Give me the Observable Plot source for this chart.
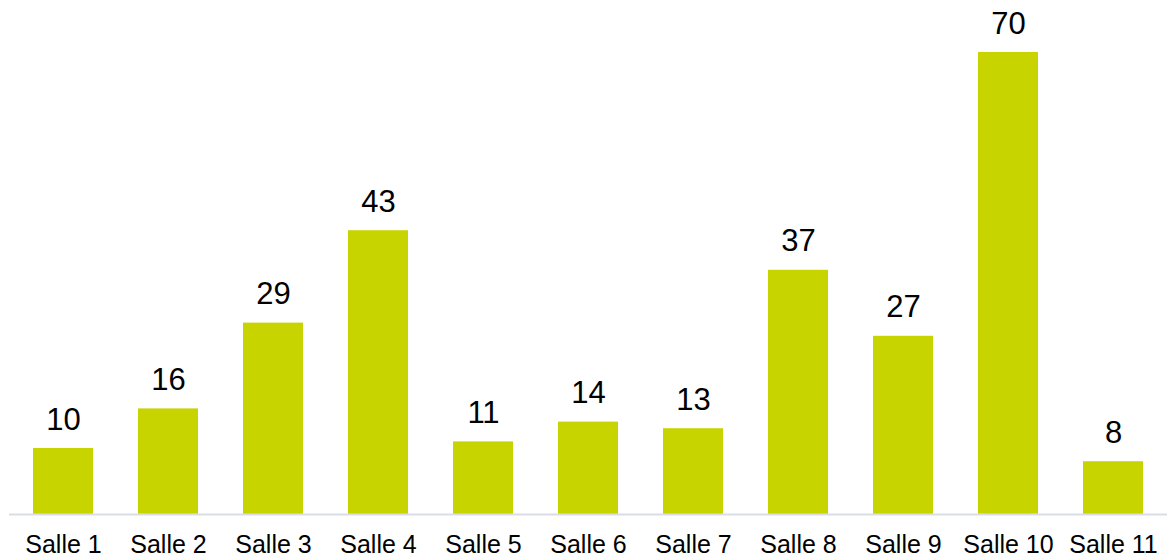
<!DOCTYPE html>
<html>
<head>
<meta charset="utf-8">
<script src="https://cdn.jsdelivr.net/npm/d3@7"></script>
<script src="https://cdn.jsdelivr.net/npm/@observablehq/plot@0.6"></script>
<style>
  html, body { margin: 0; padding: 0; background: #fff; }
  #chart svg { display: block; }
</style>
</head>
<body>
<div id="chart"></div>
<script>
const categories = ["Salle 1","Salle 2","Salle 3","Salle 4","Salle 5","Salle 6","Salle 7","Salle 8","Salle 9","Salle 10","Salle 11"];
const values = [10, 16, 29, 43, 11, 14, 13, 37, 27, 70, 8];

const data = categories.map((c, i) => ({ salle: c, value: values[i] }));

const chart = Plot.plot({
  width: 1167,
  height: 560,
  marginTop: 52,
  marginBottom: 46,
  marginLeft: 9,
  marginRight: 0,
  style: { fontFamily: "'Liberation Sans', Arial, sans-serif", background: "#fff" },
  x: { domain: categories, paddingInner: 0.43, paddingOuter: 0.215, label: null },
  y: { domain: [0, 70], axis: null },
  marks: [
    Plot.axisX({ tickSize: 0, tickPadding: 21, fontSize: 25, fill: "#000", label: null }),
    Plot.barY(data, { x: "salle", y: "value", fill: "#c8d400" }),
    Plot.ruleY([0], { stroke: "#d9dde6", strokeWidth: 2 }),
    Plot.text(data, { x: "salle", y: "value", text: d => String(d.value), dy: -19, lineAnchor: "bottom", fontSize: 31, fill: "#000" })
  ]
});
document.getElementById("chart").append(chart);
</script>
</body>
</html>
